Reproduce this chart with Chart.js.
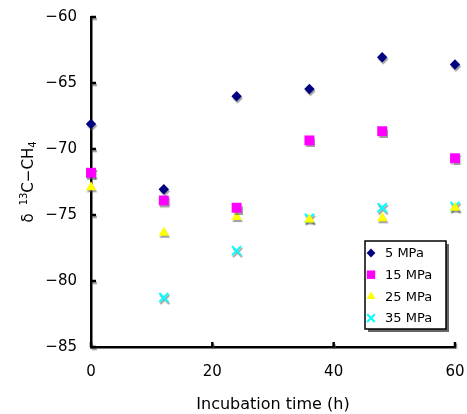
<!DOCTYPE html>
<html>
<head>
<meta charset="utf-8">
<script src="https://cdn.jsdelivr.net/npm/chart.js@4.4.0/dist/chart.umd.min.js"></script>
<style>
  html, body { margin: 0; padding: 0; background: #fff; }
</style>
</head>
<body>
<canvas id="chart" width="467" height="414"></canvas>
<script>
// incubation time (h)
const hours = [0, 12, 24, 36, 48, 60];
const seriesNames = ['5 MPa', '15 MPa', '25 MPa', '35 MPa'];
// delta 13C-CH4 values
const mpa5 = [-68.1, -73.05, -66.0, -65.45, -63.05, -63.6];
const mpa15 = [-71.8, -73.9, -74.45, -69.35, -68.65, -70.7];
const mpa25 = [-72.9, -76.35, -75.15, -75.35, -75.25, -74.45];
const mpa35 = [-71.8, -81.25, -77.7, -75.25, -74.45, -74.35];
const xTicks = [0, 20, 40, 60];
const yTicks = [-85, -80, -75, -70, -65, -60];

const toPoints = vals => hours.map((h, i) => ({ x: h, y: vals[i] }));
const tickFont = { family: 'DejaVu Sans', size: 15 };

const styles = [
  { pointStyle: 'rectRot', pointRadius: 5.2, color: '#000080', borderWidth: 0 },
  { pointStyle: 'rect', pointRadius: 7, color: '#ff00ff', borderWidth: 0 },
  { pointStyle: 'triangle', pointRadius: 6, color: '#ffff00', borderWidth: 0 },
  { pointStyle: 'crossRot', pointRadius: 6.4, color: '#00ffff', borderWidth: 2 }
];

const datasets = [mpa5, mpa15, mpa25, mpa35].map((vals, i) => ({
  label: seriesNames[i],
  data: toPoints(vals),
  pointStyle: styles[i].pointStyle,
  pointRadius: styles[i].pointRadius,
  pointHoverRadius: styles[i].pointRadius,
  backgroundColor: styles[i].color,
  borderColor: styles[i].color,
  pointBorderWidth: styles[i].borderWidth,
  borderWidth: styles[i].borderWidth,
  showLine: false,
  clip: false
}));

// grey drop shadow under the markers
const markerShadow = {
  id: 'markerShadow',
  beforeDatasetsDraw(chart) {
    const c = chart.ctx;
    c.save();
    c.shadowColor = 'rgba(80,80,80,0.55)';
    c.shadowOffsetX = 1;
    c.shadowOffsetY = 2;
    c.shadowBlur = 1;
  },
  afterDatasetsDraw(chart) {
    chart.ctx.restore();
  }
};

// short inward tick marks
const innerTicks = {
  id: 'innerTicks',
  beforeDatasetsDraw(chart) {
    const { ctx, chartArea: a, scales: { x, y } } = chart;
    ctx.save();
    ctx.strokeStyle = '#000';
    ctx.lineWidth = 2.5;
    xTicks.forEach(v => {
      const px = x.getPixelForValue(v);
      ctx.beginPath(); ctx.moveTo(px, a.bottom); ctx.lineTo(px, a.bottom - 5); ctx.stroke();
    });
    yTicks.forEach(v => {
      const py = y.getPixelForValue(v);
      ctx.beginPath(); ctx.moveTo(a.left, py); ctx.lineTo(a.left + 5, py); ctx.stroke();
    });
    ctx.restore();
  }
};

// y title with superscript / subscript
const yTitle = {
  id: 'yTitle',
  afterDraw(chart) {
    const { ctx, chartArea: a } = chart;
    const big = '15px "DejaVu Sans"', small = '10px "DejaVu Sans"';
    const parts = [
      { t: '\u03b4', f: big, dy: 0 },
      { gap: 8 },
      { t: '13', f: small, dy: -6 },
      { t: 'C\u2212CH', f: big, dy: 0 },
      { t: '4', f: small, dy: 3 }
    ];
    let total = 0;
    parts.forEach(p => {
      if (p.gap) { p.w = p.gap; } else { ctx.font = p.f; p.w = ctx.measureText(p.t).width; }
      total += p.w;
    });
    ctx.save();
    ctx.translate(33, (a.top + a.bottom) / 2 + total / 2);
    ctx.rotate(-Math.PI / 2);
    ctx.fillStyle = '#000';
    ctx.textBaseline = 'alphabetic';
    let u = 0;
    parts.forEach(p => {
      if (!p.gap) { ctx.font = p.f; ctx.fillText(p.t, u, p.dy); }
      u += p.w;
    });
    ctx.restore();
  }
};

// boxed legend inside the plot
const boxLegend = {
  id: 'boxLegend',
  afterDraw(chart) {
    const { ctx, chartArea: a } = chart;
    const x0 = a.right - 90, y0 = a.top + 224, w = 81, h = 88;
    ctx.save();
    ctx.fillStyle = '#666';
    ctx.fillRect(x0 + 3, y0 + 3, w, h);
    ctx.fillStyle = '#fff';
    ctx.fillRect(x0, y0, w, h);
    ctx.strokeStyle = '#000';
    ctx.lineWidth = 1.5;
    ctx.strokeRect(x0, y0, w, h);
    chart.data.datasets.forEach((ds, i) => {
      const cy = y0 + 12 + i * 21.7;
      ctx.fillStyle = ds.backgroundColor;
      ctx.strokeStyle = ds.borderColor;
      ctx.lineWidth = ds.pointBorderWidth;
      Chart.helpers.drawPoint(ctx, {
        pointStyle: ds.pointStyle,
        radius: ds.pointRadius * 0.85,
        borderWidth: ds.pointBorderWidth,
        rotation: 0
      }, x0 + 6, cy);
      ctx.fillStyle = '#000';
      ctx.font = '13px "DejaVu Sans"';
      ctx.textBaseline = 'middle';
      ctx.fillText(ds.label, x0 + 20, cy + 1);
    });
    ctx.restore();
  }
};

new Chart(document.getElementById('chart'), {
  type: 'scatter',
  data: { datasets },
  options: {
    responsive: false,
    animation: false,
    layout: { padding: { top: 17, right: 12, left: 0, bottom: 0 } },
    plugins: {
      legend: { display: false },
      tooltip: { enabled: false }
    },
    scales: {
      x: {
        type: 'linear',
        min: 0,
        max: 60,
        afterBuildTicks: s => { s.ticks = xTicks.map(v => ({ value: v })); },
        ticks: { color: '#000', font: tickFont, padding: 16, maxRotation: 0 },
        grid: { drawOnChartArea: false, drawTicks: false },
        border: { color: '#000', width: 2.5 },
        title: {
          display: true,
          text: 'Incubation time (h)',
          color: '#000',
          font: { family: 'DejaVu Sans', size: 16 },
          padding: { top: 0, bottom: 0 }
        },
        afterFit: s => { s.height = 67; s.paddingLeft = 0; s.paddingRight = 0; }
      },
      y: {
        type: 'linear',
        min: -85,
        max: -60,
        afterBuildTicks: s => { s.ticks = yTicks.map(v => ({ value: v })); },
        ticks: {
          color: '#000',
          font: tickFont,
          padding: 14,
          callback: v => String(v).replace('-', '\u2212')
        },
        grid: { drawOnChartArea: false, drawTicks: false },
        border: { color: '#000', width: 2.5 },
        afterFit: s => { s.width = 91; s.paddingTop = 0; s.paddingBottom = 0; }
      }
    }
  },
  plugins: [markerShadow, innerTicks, yTitle, boxLegend]
});
</script>
</body>
</html>
